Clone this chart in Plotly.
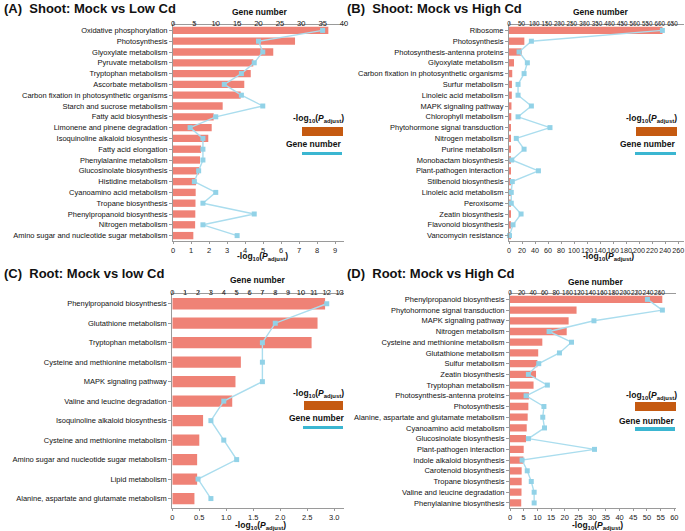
import plotly.graph_objects as go

W, H = 685, 531

# ---------------- DATA ----------------
a_terms = ["Oxidative phosphorylation", "Photosynthesis", "Glyoxylate metabolism", "Pyruvate metabolism",
           "Tryptophan metabolism", "Ascorbate metabolism", "Carbon fixation in photosynthetic organisms",
           "Starch and sucrose metabolism", "Fatty acid biosynthesis", "Limonene and pinene degradation",
           "Isoquinoline alkaloid biosynthesis", "Fatty acid elongation", "Phenylalanine metabolism",
           "Glucosinolate biosynthesis", "Histidine metabolism", "Cyanoamino acid metabolism",
           "Tropane biosynthesis", "Phenylpropanoid biosynthesis", "Nitrogen metabolism",
           "Amino sugar and nucleotide sugar metabolism"]
a_logp = [8.63, 6.78, 5.57, 4.46, 4.32, 3.96, 3.76, 2.76, 2.26, 2.15, 1.96, 1.56, 1.50, 1.45, 1.28,
          1.26, 1.25, 1.24, 1.23, 1.13]
a_genes = [35, 20, 21, 19, 16, 12, 16, 21, 10, 4, 7, 7, 7, 6, 5, 10, 7, 19, 7, 15]

b_terms = ["Ribosome", "Photosynthesis", "Photosynthesis-antenna proteins", "Glyoxylate metabolism",
           "Carbon fixation in photosynthetic organisms", "Surfur metabolism", "Linoleic acid metabolism",
           "MAPK signaling pathway", "Chlorophyll metabolism", "Phytohormone signal transduction",
           "Nitrogen metabolism", "Purine metabolism", "Monobactam biosynthesis", "Plant-pathogen interaction",
           "Stilbenoid biosynthesis", "Linoleic acid metabolism", "Peroxisome", "Zeatin biosynthesis",
           "Flavonoid biosynthesis", "Vancomycin resistance"]
b_logp = [236, 23.6, 19.5, 7.7, 5.0, 4.5, 4.3, 3.8, 3.5, 3.0, 2.8, 2.6, 2.4, 2.2, 2.1, 2.0, 1.9, 1.8, 1.7, 1.6]
b_genes = [610, 89, 40, 73, 60, 36, 36, 89, 36, 163, 29, 60, 11, 117, 13, 9, 9, 48, 16, 2]

c_terms = ["Phenylpropanoid biosynthesis", "Glutathione metabolism", "Tryptophan metabolism",
           "Cysteine and methionine metabolism", "MAPK signaling pathway", "Valine and leucine degradation",
           "Isoquinoline alkaloid biosynthesis", "Cysteine and methionine metabolism",
           "Amino sugar and nucleotide sugar metabolism", "Lipid metabolism",
           "Alanine, aspartate and glutamate metabolism"]
c_logp = [2.83, 2.69, 2.58, 1.27, 1.17, 1.11, 0.57, 0.50, 0.46, 0.46, 0.41]
c_genes = [12, 8, 7, 7, 7, 4, 3, 4, 5, 2, 3]

d_terms = ["Phenylpropanoid biosynthesis", "Phytohormone signal transduction", "MAPK signaling pathway",
           "Nitrogen metabolism", "Cysteine and methionine metabolism", "Glutathione metabolism",
           "Sulfur metabolism", "Zeatin biosynthesis", "Tryptophan metabolism", "Photosynthesis-antenna proteins",
           "Photosynthesis", "Alanine, aspartate and glutamate metabolism", "Cyanoamino acid metabolism",
           "Glucosinolate biosynthesis", "Plant-pathogen interaction", "Indole alkaloid biosynthesis",
           "Carotenoid biosynthesis", "Tropane biosynthesis", "Valine and leucine degradation",
           "Phenylalanine biosynthesis"]
d_logp = [55.6, 24.3, 21.4, 20.7, 11.8, 10.3, 10.0, 9.5, 8.6, 6.9, 6.7, 6.45, 6.1, 5.85, 5.0, 4.9,
          4.26, 4.26, 4.2, 4.1]
d_genes = [239, 265, 146, 68, 107, 86, 50, 32, 65, 28, 59, 57, 60, 32, 147, 21, 30, 37, 42, 42]

titles = ["(A)  Shoot: Mock vs Low Cd", "(B)  Shoot: Mock vs High Cd",
          "(C)  Root: Mock vs low Cd", "(D)  Root: Mock vs High Cd"]

a_bot_ticks = list(range(0, 10))
a_top_ticks = list(range(0, 41, 5))
b_bot_ticks = list(range(0, 261, 20))
b_top_ticks = list(range(0, 651, 50))
c_bot_ticks = [0, 0.5, 1.0, 1.5, 2.0, 2.5, 3.0]
c_bot_text = ["0", "0.5", "1.0", "1.5", "2.0", "2.5", "3.0"]
c_top_ticks = list(range(0, 14))
d_bot_ticks = list(range(0, 61, 5))
d_top_ticks = list(range(0, 261, 20))

# ---------------- STYLE ----------------
BAR = "#EF8276"
LINE = "#AADDEE"
MARK = "#92D2E7"
ORANGE = "#C55A11"
BLUE = "#3BB6D1"
AX = "#9a9a9a"
FONT = "Arial, Liberation Sans, sans-serif"

def px(x):
    return x / W

def py(y):
    return 1 - y / H

panels = [
    dict(terms=a_terms, logp=a_logp, genes=a_genes, x0=173, x1=344, ytop=25, ybot=241,
         brange=[0, 9.5], bticks=a_bot_ticks, btext=None, trange=[0, 40], tticks=a_top_ticks,
         tfs=7.5, bfs=7.5,
         bw=0.68, title_xy=(2, 8), gn_xy=(259, 12), lp_xy=(262, 257),
         leg=dict(t1=(318, 118), r1=(302, 127, 343, 136), t2=(313, 144), r2=(302, 152, 342, 155))),
    dict(terms=b_terms, logp=b_logp, genes=b_genes, x0=509, x1=684, ytop=25, ybot=241,
         brange=[0, 269], bticks=b_bot_ticks, btext=None, trange=[0, 696], tticks=b_top_ticks,
         tfs=6.3, bfs=7.2,
         bw=0.68, title_xy=(345, 8), gn_xy=(600, 12), lp_xy=(608, 257),
         leg=dict(t1=(651, 118), r1=(636, 127, 677, 136), t2=(647, 144), r2=(635, 152, 676, 155))),
    dict(terms=c_terms, logp=c_logp, genes=c_genes, x0=172.3, x1=344, ytop=294, ybot=508.3,
         brange=[0, 3.18], bticks=c_bot_ticks, btext=c_bot_text, trange=[0, 13.34], tticks=c_top_ticks,
         tfs=7.5, bfs=7.5,
         bw=0.58, title_xy=(2, 273), gn_xy=(257, 280), lp_xy=(260, 525),
         leg=dict(t1=(318, 393), r1=(304, 401, 343, 410), t2=(316, 418), r2=(303, 426, 343, 429))),
    dict(terms=d_terms, logp=d_logp, genes=d_genes, x0=510, x1=676, ytop=294, ybot=508.3,
         brange=[0, 60.6], bticks=d_bot_ticks, btext=None, trange=[0, 288.7], tticks=d_top_ticks,
         tfs=6.5, bfs=7.5,
         bw=0.68, title_xy=(345, 273), gn_xy=(595, 282), lp_xy=(597, 525),
         leg=dict(t1=(651, 395), r1=(635, 402, 676, 411), t2=(646, 421), r2=(635, 427, 675, 431))),
]

fig = go.Figure()
layout = dict(width=W, height=H, margin=dict(l=0, r=0, t=0, b=0, autoexpand=False), plot_bgcolor="white",
              paper_bgcolor="white", showlegend=False, font=dict(family=FONT, color="#111"),
              annotations=[], shapes=[])

for i, p in enumerate(panels):
    bx = f"x{2*i+1}" if i > 0 else "x"
    tx = f"x{2*i+2}"
    yy = f"y{i+1}" if i > 0 else "y"
    n = len(p["terms"])
    ypos = list(range(n))
    fig.add_trace(go.Bar(x=p["logp"], y=ypos, orientation="h", marker=dict(color=BAR, line=dict(width=0)),
                         width=p["bw"], xaxis=bx, yaxis=yy))
    fig.add_trace(go.Scatter(x=p["genes"], y=ypos, mode="lines+markers", xaxis=tx, yaxis=yy,
                             line=dict(color=LINE, width=1.4),
                             marker=dict(symbol="square", size=5, color=MARK), cliponaxis=False))
    bkey = "xaxis" if i == 0 else f"xaxis{2*i+1}"
    tkey = f"xaxis{2*i+2}"
    ykey = "yaxis" if i == 0 else f"yaxis{i+1}"
    dom = [px(p["x0"]), px(p["x1"])]
    bax = dict(domain=dom, range=p["brange"], anchor=yy, side="bottom", showline=True, linecolor=AX,
               linewidth=1, ticks="outside", ticklen=2, tickcolor=AX, tickvals=p["bticks"], tickangle=0,
               tickfont=dict(family=FONT, size=p["bfs"], color="#222"), ticklabelstandoff=0,
               showgrid=False, zeroline=False, fixedrange=True, automargin=False)
    if p["btext"]:
        bax["ticktext"] = p["btext"]
    tax = dict(domain=dom, range=p["trange"], anchor=yy, side="top", overlaying=bx, showline=True,
               linecolor=AX, linewidth=1, ticks="outside", ticklen=2, tickcolor=AX, tickvals=p["tticks"],
               tickangle=0, tickfont=dict(family=FONT, size=p["tfs"], color="#222"), ticklabelstandoff=-7,
               showgrid=False, zeroline=False, fixedrange=True, automargin=False)
    yax = dict(domain=[py(p["ybot"]), py(p["ytop"])], range=[n - 0.5, -0.5], anchor=bx, showline=True,
               linecolor=AX, linewidth=1, ticks="outside", ticklen=3, tickcolor=AX, tickvals=ypos,
               ticktext=p["terms"], tickfont=dict(family=FONT, size=7.5, color="#111"),
               showgrid=False, zeroline=False, fixedrange=True, automargin=False)
    layout[bkey] = bax
    layout[tkey] = tax
    layout[ykey] = yax

    def ann(text, xy, size, xanchor="center", bold=True):
        layout["annotations"].append(dict(text=f"<b>{text}</b>" if bold else text, x=px(xy[0]), y=py(xy[1]),
                                          xref="paper", yref="paper", xanchor=xanchor, yanchor="middle",
                                          showarrow=False, font=dict(family=FONT, size=size, color="#111")))

    ann(titles[i], p["title_xy"], 13, xanchor="left")
    ann("Gene number", p["gn_xy"], 8.5)
    ann("-log<sub>10</sub>(<i>P</i><sub>adjust</sub>)", p["lp_xy"], 8.5)
    lg = p["leg"]
    ann("-log<sub>10</sub>(<i>P</i><sub>adjust</sub>)", lg["t1"], 8.5)
    ann("Gene number", lg["t2"], 8.5)
    for (r, col) in ((lg["r1"], ORANGE), (lg["r2"], BLUE)):
        layout["shapes"].append(dict(type="rect", xref="paper", yref="paper", x0=px(r[0]), x1=px(r[2]),
                                     y0=py(r[3]), y1=py(r[1]), fillcolor=col, line=dict(width=0)))

fig.update_layout(**layout)
fig.write_html("out.html", config={"displayModeBar": False},
               post_script="document.body.style.margin='0px';document.body.style.overflow='hidden';")
